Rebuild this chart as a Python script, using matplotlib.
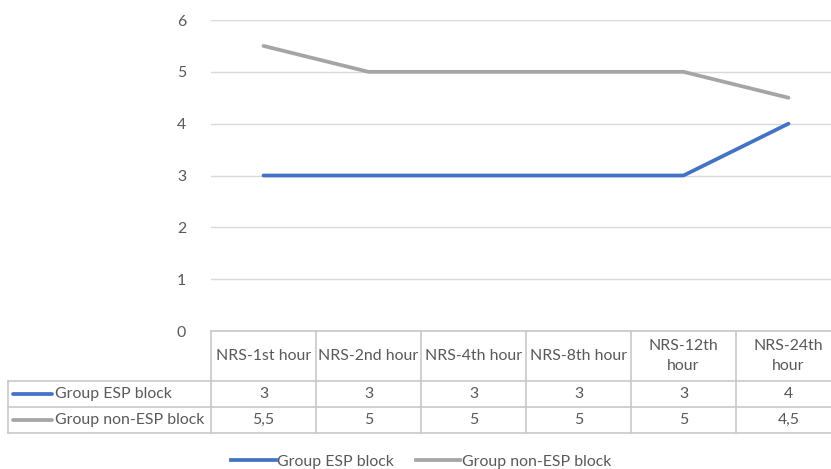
import matplotlib
matplotlib.use("Agg")
import matplotlib.pyplot as plt
from matplotlib.lines import Line2D

categories = ["NRS-1st hour", "NRS-2nd hour", "NRS-4th hour", "NRS-8th hour",
              "NRS-12th\nhour", "NRS-24th\nhour"]
series_names = ["Group ESP block", "Group non-ESP block"]
esp = [3, 3, 3, 3, 3, 4]
non_esp = [5.5, 5, 5, 5, 5, 4.5]
esp_labels = ["3", "3", "3", "3", "3", "4"]
non_esp_labels = ["5,5", "5", "5", "5", "5", "4,5"]
yticks = [0, 1, 2, 3, 4, 5, 6]

BLUE = "#4472C4"
GRAY = "#A5A5A5"
TXT = "#595959"
GRID = "#D9D9D9"
BORDER = "#C8C8C8"
FS = 11.4
LW = 2.7

W, H = 831, 469
plt.rcParams["font.family"] = ["Lato", "DejaVu Sans"]
fig = plt.figure(figsize=(W / 100, H / 100), dpi=100)

# plot area in pixels
x0, x1 = 211, 841
y_top, y_bot = 20, 331
ax = fig.add_axes([x0 / W, 1 - y_bot / H, (x1 - x0) / W, (y_bot - y_top) / H])
xs = list(range(len(categories)))
ax.plot(xs, esp, color=BLUE, lw=LW, solid_capstyle="round", zorder=3)
ax.plot(xs, non_esp, color=GRAY, lw=LW, solid_capstyle="round", zorder=3)
ax.set_xlim(-0.5, len(categories) - 0.5)
ax.set_ylim(0, 6)
ax.set_yticks(yticks)
ax.set_yticklabels([str(v) for v in yticks], color=TXT, fontsize=FS)
ax.tick_params(axis="y", length=0, pad=18)
ax.set_xticks([])
for s in ax.spines.values():
    s.set_visible(False)
ax.grid(axis="y", color=GRID, lw=1)
ax.set_axisbelow(True)

# data table, drawn in pixel coordinates
col_w = (x1 - x0) / len(categories)
r_head, r1, r2 = y_bot, 381, 407
r_end = 433
lab_x = 8


def px(x, y):
    return x / W, 1 - y / H


def hline(xa, xb, y):
    fig.add_artist(Line2D([xa / W, xb / W], [1 - y / H] * 2, color=BORDER, lw=1.2))


def vline(x, ya, yb):
    fig.add_artist(Line2D([x / W] * 2, [1 - ya / H, 1 - yb / H], color=BORDER, lw=1.2))


hline(x0, x1, r_head)
hline(lab_x, x1, r1)
hline(lab_x, x1, r2)
hline(lab_x, x1, r_end)
vline(lab_x, r1, r_end)
for i in range(len(categories) + 1):
    vline(x0 + i * col_w, r_head, r_end)

for i, cat in enumerate(categories):
    cx = x0 + (i + 0.5) * col_w
    fig.text(*px(cx, (r_head + r1) / 2), cat, ha="center", va="center",
             color=TXT, fontsize=FS, linespacing=1.55)
    fig.text(*px(cx, (r1 + r2) / 2), esp_labels[i], ha="center", va="center",
             color=TXT, fontsize=FS)
    fig.text(*px(cx, (r2 + r_end) / 2), non_esp_labels[i], ha="center", va="center",
             color=TXT, fontsize=FS)

for (ya, yb), name, c in [((r1, r2), series_names[0], BLUE),
                          ((r2, r_end), series_names[1], GRAY)]:
    ym = (ya + yb) / 2
    fig.add_artist(Line2D([13 / W, 52 / W], [1 - ym / H] * 2, color=c, lw=LW,
                          solid_capstyle="round"))
    fig.text(*px(55, ym), name, ha="left", va="center", color=TXT, fontsize=FS)

handles = [Line2D([], [], color=BLUE, lw=LW), Line2D([], [], color=GRAY, lw=LW)]
fig.legend(handles, series_names, loc="center", bbox_to_anchor=(0.507, 1 - 462 / H),
           ncol=2, frameon=False, fontsize=FS, labelcolor=TXT,
           handlelength=2.8, handletextpad=0.1, columnspacing=1.4)

fig.savefig("out.png", dpi=100)
